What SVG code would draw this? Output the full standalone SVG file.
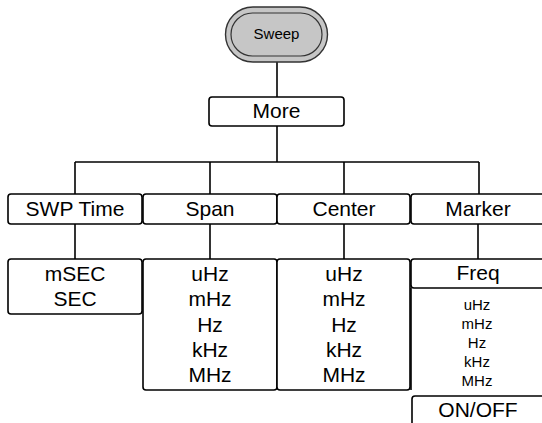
<svg xmlns="http://www.w3.org/2000/svg" width="542" height="423" viewBox="0 0 542 423">
<style>
.box{fill:#fff;stroke:#000;stroke-width:1.6}
.ln{fill:none;stroke:#000;stroke-width:1.6}
text{font-family:"Liberation Sans",Arial,sans-serif;fill:#000;text-anchor:middle}
.t{font-size:21px}
.s{font-size:15px}
</style>
<rect width="542" height="423" fill="#fff"/>
<g id="connectors" class="ln">
<line x1="277" y1="62" x2="277" y2="97"/>
<line x1="277" y1="126" x2="277" y2="162"/>
<line x1="75" y1="162" x2="479" y2="162"/>
<line x1="75" y1="162" x2="75" y2="194"/>
<line x1="210" y1="162" x2="210" y2="194"/>
<line x1="344" y1="162" x2="344" y2="194"/>
<line x1="479" y1="162" x2="479" y2="194"/>
<line x1="75" y1="224" x2="75" y2="259"/>
<line x1="210" y1="224" x2="210" y2="259"/>
<line x1="344" y1="224" x2="344" y2="259"/>
<line x1="478" y1="224" x2="478" y2="259"/>
</g>
<g id="sweep">
<rect x="225.5" y="7" width="102" height="55" rx="27.5" fill="#c6c6c6" stroke="#333" stroke-width="1.4"/>
<rect x="231" y="13" width="91" height="43" rx="21.5" fill="#c6c6c6" stroke="#333" stroke-width="1.2"/>
<text class="s" x="276.5" y="39">Sweep</text>
</g>
<g id="more">
<rect class="box" x="209" y="97" width="135" height="29" rx="3"/>
<text class="t" x="276.5" y="118">More</text>
</g>
<g id="swptime">
<rect class="box" x="8" y="194" width="134" height="30" rx="3"/>
<text class="t" x="75" y="216">SWP Time</text>
</g>
<g id="span">
<rect class="box" x="143" y="194" width="134" height="30" rx="3"/>
<text class="t" x="210" y="216">Span</text>
</g>
<g id="center">
<rect class="box" x="277" y="194" width="133" height="30" rx="3"/>
<text class="t" x="344" y="216">Center</text>
</g>
<g id="marker">
<rect class="box" x="411" y="194" width="136" height="30" rx="3"/>
<text class="t" x="478" y="216">Marker</text>
</g>
<g id="swp-values">
<rect class="box" x="8" y="259" width="134" height="55" rx="3"/>
<text class="t" x="75" y="281">mSEC</text>
<text class="t" x="75" y="306">SEC</text>
</g>
<g id="span-values">
<rect class="box" x="143" y="259" width="134" height="131" rx="3"/>
<text class="t" x="210" y="281">uHz</text>
<text class="t" x="210" y="306">mHz</text>
<text class="t" x="210" y="332">Hz</text>
<text class="t" x="210" y="357">kHz</text>
<text class="t" x="210" y="382">MHz</text>
</g>
<g id="center-values">
<rect class="box" x="277" y="259" width="133" height="131" rx="3"/>
<text class="t" x="344" y="281">uHz</text>
<text class="t" x="344" y="306">mHz</text>
<text class="t" x="344" y="332">Hz</text>
<text class="t" x="344" y="357">kHz</text>
<text class="t" x="344" y="382">MHz</text>
</g>
<g id="freq">
<rect class="box" x="411" y="259" width="136" height="29" rx="3"/>
<line class="ln" x1="411" y1="288" x2="411" y2="390"/>
<text class="t" x="478" y="280">Freq</text>
<text class="s" x="477" y="310">uHz</text>
<text class="s" x="477" y="329">mHz</text>
<text class="s" x="477" y="348">Hz</text>
<text class="s" x="477" y="367">kHz</text>
<text class="s" x="477" y="386">MHz</text>
</g>
<g id="onoff">
<rect class="box" x="412" y="396" width="136" height="40" rx="3"/>
<text class="t" x="478" y="417">ON/OFF</text>
</g>
</svg>
